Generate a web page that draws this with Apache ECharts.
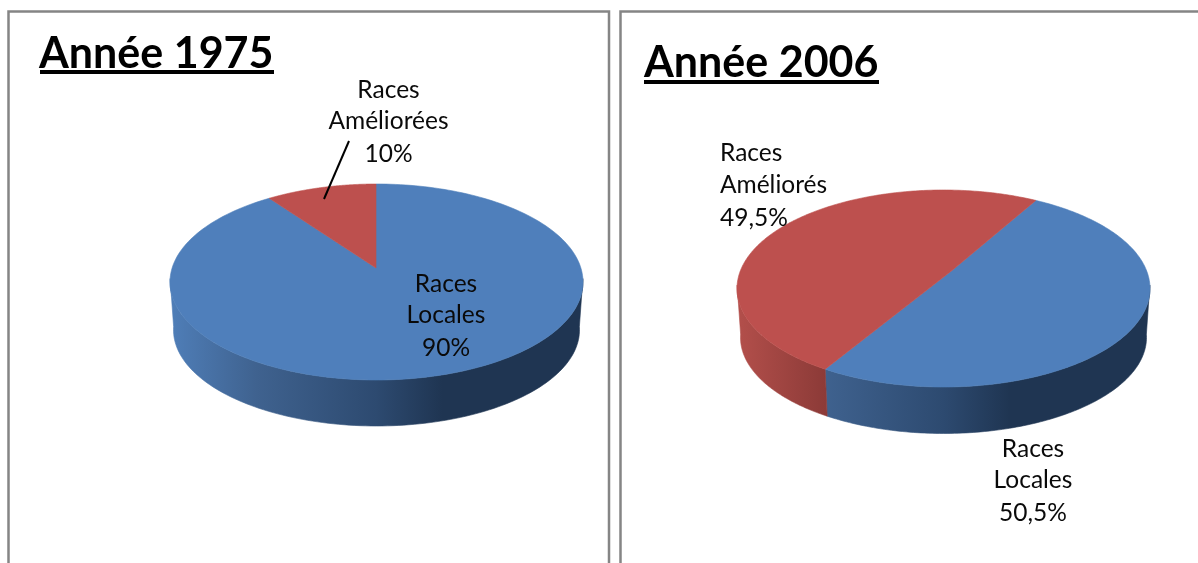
<!DOCTYPE html>
<html><head><meta charset="utf-8">
<style>html,body{margin:0;padding:0;background:#fff}#c{width:1198px;height:563px}</style>
<script src="https://cdn.jsdelivr.net/npm/echarts@6/dist/echarts.min.js"></script>
</head><body><div id="c"></div>
<script>
const categories = ['Races Locales', 'Races Améliorées'];
const values1975 = [90, 10];
const values2006 = [50.5, 49.5];
const titleTexts = ['Année 1975', 'Année 2006'];
const labels1975 = [['Races', 'Locales', '90%'], ['Races', 'Améliorées', '10%']];
const labels2006 = [['Races', 'Locales', '50,5%'], ['Races', 'Améliorés', '49,5%']];

const FONT = 'Lato';
const topColors = ['#4f7fbb', '#bd504e'];
const wallStops = [
  [{offset:0,color:'#4f7eb8'},{offset:.21,color:'#3f628f'},{offset:.5,color:'#2d4a70'},{offset:.66,color:'#1f3552'},{offset:1,color:'#1f3552'}],
  [{offset:0,color:'#b34f4b'},{offset:.21,color:'#8d3b38'},{offset:.66,color:'#5a2624'},{offset:1,color:'#5a2624'}]
];

// Perspective ellipse: the apex sits off the ellipse centre, as in the tilted 3D pie.
function pieSeries(values, geo) {
  const total = values.reduce((a,b)=>a+b,0);
  const rad = d => d*Math.PI/180;
  // ray from the apex at the pie angle a -> parameter t on the top ellipse
  function ellipseParam(a) {
    const dx = Math.sin(a)*geo.rx, dy = -Math.cos(a)*geo.ry;
    const ox = geo.apexX - geo.cx, oy = geo.apexY - geo.cy;
    const rx2 = geo.rx*geo.rx, ry2 = geo.ry*geo.ry;
    const A = dx*dx/rx2 + dy*dy/ry2;
    const B = 2*(ox*dx/rx2 + oy*dy/ry2);
    const C = ox*ox/rx2 + oy*oy/ry2 - 1;
    const s = (-B + Math.sqrt(B*B-4*A*C))/(2*A);
    const y = oy + s*dy, x = ox + s*dx;
    let t = Math.atan2(x/geo.rx, -y/geo.ry);
    while (t < a - Math.PI) t += 2*Math.PI;
    while (t > a + Math.PI) t -= 2*Math.PI;
    return t;
  }
  const topPt = t => [geo.cx + geo.rx*Math.sin(t), geo.cy - geo.ry*Math.cos(t)];
  const botPt = t => [geo.cx + geo.brx*Math.sin(t), geo.cb - geo.bry*Math.cos(t)];
  return {
    type:'custom', coordinateSystem:'none', silent:true, animation:false, clip:false,
    data: values.map((v,i)=>({name:categories[i], value:v})),
    renderItem(params, api) {
      const i = params.dataIndex;
      let before = 0;
      for (let k=0;k<i;k++) before += values[k];
      const a0 = rad(geo.start) + before/total*2*Math.PI;
      const a1 = a0 + api.value(0)/total*2*Math.PI;
      const t0 = ellipseParam(a0);
      let t1 = ellipseParam(a1);
      if (t1 <= t0) t1 += 2*Math.PI;
      const top = [[geo.apexX, geo.apexY]];
      for (let n=0;n<=240;n++) top.push(topPt(t0+(t1-t0)*n/240));
      const children = [];
      for (const off of [0, 2*Math.PI, -2*Math.PI]) {
        const lo = Math.max(t0, rad(88)+off), hi = Math.min(t1, rad(272)+off);
        if (hi <= lo) continue;
        const w = [];
        for (let n=0;n<=120;n++) w.push(topPt(lo+(hi-lo)*n/120));
        for (let n=120;n>=0;n--) w.push(botPt(lo+(hi-lo)*n/120));
        const fill = {type:'linear', x:geo.cx-geo.rx, y:0, x2:geo.cx+geo.rx, y2:0, global:true, colorStops:wallStops[i]};
        children.push({type:'polygon', shape:{points:w}, z2:1, style:{fill:fill, stroke:fill, lineWidth:0.6}});
      }
      children.push({type:'polygon', shape:{points:top}, z2:5, style:{fill:topColors[i], stroke:topColors[i], lineWidth:0.6}});
      return {type:'group', children};
    }
  };
}

function textBlock(lines, x, ys, align) {
  return lines.map((s,i)=>({type:'text', z:50, silent:true, style:{
    text:s, x:x, y:ys[i], align:align, verticalAlign:'middle',
    font:'24.5px '+FONT, fill:'#0a0a0a'}}));
}
const frame = pts => ({type:'polyline', z:40, silent:true, shape:{points:pts}, style:{stroke:'#858585', lineWidth:2.5, fill:null}});
const rule = (x1,x2,y) => ({type:'rect', z:50, silent:true, shape:{x:x1,y:y,width:x2-x1,height:4}, style:{fill:'#000'}});

const chart = echarts.init(document.getElementById('c'), null, {renderer:'canvas'});
chart.setOption({
  backgroundColor:'#fff',
  animation:false,
  title:[
    {text:titleTexts[0], left:39, top:33, padding:0, textStyle:{fontFamily:FONT, fontWeight:'bold', fontSize:43, color:'#000'}},
    {text:titleTexts[1], left:644, top:42, padding:0, textStyle:{fontFamily:FONT, fontWeight:'bold', fontSize:43, color:'#000'}}
  ],
  series:[
    pieSeries(values1975, {start:0, cx:376.5, cy:282, rx:206.5, ry:98, apexX:376, apexY:268, brx:203, bry:96, cb:330}),
    pieSeries(values2006, {start:29.7, cx:943.5, cy:288.5, rx:206.5, ry:98.5, apexX:952, apexY:270.5, brx:203, bry:96, cb:337.5})
  ],
  graphic:{elements:[
    frame([[8.5,563],[8.5,11.5],[609,11.5],[609,563]]),
    frame([[620.5,563],[620.5,11.5],[1198,11.5]]),
    rule(40,274,70), rule(644,879,80),
    {type:'line', z:50, silent:true, shape:{x1:349,y1:141,x2:324,y2:199}, style:{stroke:'#000', lineWidth:2}},
    ...textBlock(labels1975[1], 388.5, [90,121,154], 'center'),
    ...textBlock(labels1975[0], 446, [284,315,348], 'center'),
    ...textBlock(labels2006[1], 720, [153,185,218], 'left'),
    ...textBlock(labels2006[0], 1033, [449,480,513], 'center')
  ]}
});
</script></body></html>
